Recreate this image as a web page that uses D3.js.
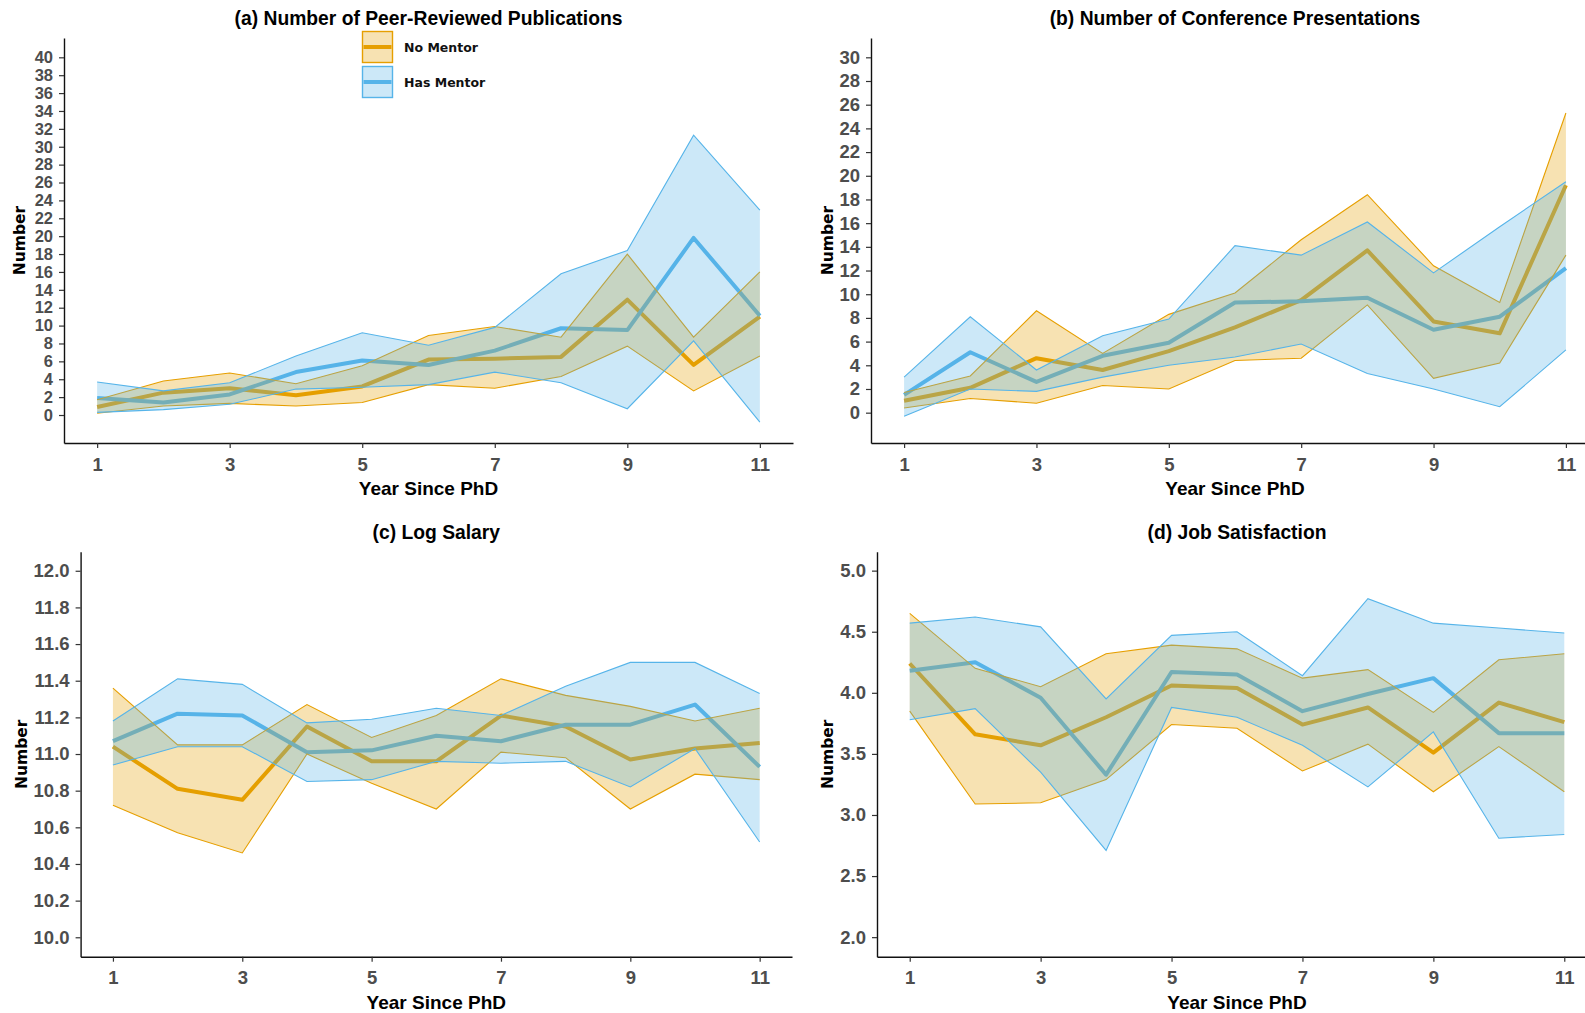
<!DOCTYPE html>
<html>
<head>
<meta charset="utf-8">
<script src="https://cdn.jsdelivr.net/npm/d3@7"></script>
<style>
  body { margin: 0; background: #fff; }
  svg { display: block; }
</style>
</head>
<body>
<svg id="chart" width="1585" height="1013"></svg>
<script>
const years = [1, 2, 3, 4, 5, 6, 7, 8, 9, 10, 11]
const yearTicks = [1, 3, 5, 7, 9, 11]
const groupNames = ["No Mentor", "Has Mentor"]

// (a) peer-reviewed publications
const pubsNoMean = [0.9, 2.5, 3.0, 2.2, 3.2, 6.2, 6.3, 6.5, 12.9, 5.6, 11.0]
const pubsNoLow = [0.2, 1.0, 1.3, 1.0, 1.4, 3.4, 3.0, 4.3, 7.7, 2.7, 6.6]
const pubsNoHigh = [1.7, 3.8, 4.7, 3.5, 5.5, 8.9, 9.9, 8.7, 18.0, 8.7, 16.0]
const pubsHasMean = [1.9, 1.4, 2.3, 4.8, 6.1, 5.6, 7.2, 9.7, 9.5, 19.8, 11.1]
const pubsHasLow = [0.3, 0.6, 1.2, 2.9, 3.1, 3.4, 4.8, 3.6, 0.7, 8.3, -0.8]
const pubsHasHigh = [3.7, 2.7, 3.6, 6.6, 9.2, 7.8, 9.8, 15.8, 18.4, 31.3, 22.9]
const pubsTicks = [0, 2, 4, 6, 8, 10, 12, 14, 16, 18, 20, 22, 24, 26, 28, 30, 32, 34, 36, 38, 40]

// (b) conference presentations
const confNoMean = [1.0, 2.1, 4.6, 3.6, 5.2, 7.2, 9.5, 13.7, 7.7, 6.7, 19.2]
const confNoLow = [0.4, 1.2, 0.8, 2.3, 2.0, 4.4, 4.6, 9.1, 2.9, 4.2, 13.3]
const confNoHigh = [1.7, 3.1, 8.6, 5.0, 8.3, 10.1, 14.6, 18.4, 12.4, 9.3, 25.3]
const confHasMean = [1.5, 5.1, 2.6, 4.8, 5.9, 9.3, 9.4, 9.7, 7.0, 8.1, 12.2]
const confHasLow = [-0.3, 2.0, 1.8, 3.0, 4.0, 4.7, 5.8, 3.3, 2.0, 0.5, 5.3]
const confHasHigh = [3.0, 8.1, 3.6, 6.5, 7.9, 14.1, 13.3, 16.1, 11.8, 15.7, 19.5]
const confTicks = [0, 2, 4, 6, 8, 10, 12, 14, 16, 18, 20, 22, 24, 26, 28, 30]

// (c) log salary
const salaryNoMean = [11.04, 10.81, 10.75, 11.15, 10.96, 10.96, 11.21, 11.15, 10.97, 11.03, 11.06]
const salaryNoLow = [10.72, 10.57, 10.46, 11.00, 10.84, 10.70, 11.01, 10.98, 10.70, 10.89, 10.86]
const salaryNoHigh = [11.36, 11.05, 11.05, 11.27, 11.09, 11.21, 11.41, 11.32, 11.26, 11.18, 11.25]
const salaryHasMean = [11.07, 11.22, 11.21, 11.01, 11.02, 11.10, 11.07, 11.16, 11.16, 11.27, 10.93]
const salaryHasLow = [10.94, 11.04, 11.04, 10.85, 10.86, 10.96, 10.95, 10.96, 10.82, 11.03, 10.52]
const salaryHasHigh = [11.18, 11.41, 11.38, 11.17, 11.19, 11.25, 11.21, 11.37, 11.50, 11.50, 11.33]
const salaryTicks = [10.0, 10.2, 10.4, 10.6, 10.8, 11.0, 11.2, 11.4, 11.6, 11.8, 12.0]

// (d) job satisfaction
const satisNoMean = [4.24, 3.66, 3.57, 3.80, 4.06, 4.04, 3.74, 3.88, 3.51, 3.92, 3.76]
const satisNoLow = [3.85, 3.09, 3.10, 3.29, 3.74, 3.71, 3.36, 3.58, 3.19, 3.56, 3.19]
const satisNoHigh = [4.65, 4.20, 4.05, 4.32, 4.39, 4.36, 4.12, 4.19, 3.84, 4.27, 4.32]
const satisHasMean = [4.18, 4.25, 3.96, 3.33, 4.17, 4.15, 3.85, 3.99, 4.12, 3.67, 3.67]
const satisHasLow = [3.78, 3.87, 3.35, 2.71, 3.88, 3.80, 3.57, 3.23, 3.68, 2.81, 2.84]
const satisHasHigh = [4.57, 4.62, 4.54, 3.95, 4.47, 4.50, 4.14, 4.77, 4.57, 4.53, 4.49]
const satisTicks = [2.0, 2.5, 3.0, 3.5, 4.0, 4.5, 5.0]

const colors = ["#E69F00", "#56B4E9"]
const fontMain = "'Liberation Sans', Arial, sans-serif"
const fontAlt = "'DejaVu Sans', Verdana, sans-serif"

const svg = d3.select("#chart")

const makeSeries = (mean, low, high) => years.map((yr, i) => ({ yr: yr, mean: mean[i], low: low[i], high: high[i] }))

const panels = [
  {
    title: "(a) Number of Peer-Reviewed Publications",
    groups: [makeSeries(pubsNoMean, pubsNoLow, pubsNoHigh), makeSeries(pubsHasMean, pubsHasLow, pubsHasHigh)],
    ticks: pubsTicks, fmt: d3.format("d"), tickFont: "16.5px",
    left: 64, right: 793, top: 38, bottom: 443, yDomain: [-3.13, 42.16], labelX: 25, legend: true
  },
  {
    title: "(b) Number of Conference Presentations",
    groups: [makeSeries(confNoMean, confNoLow, confNoHigh), makeSeries(confHasMean, confHasLow, confHasHigh)],
    ticks: confTicks, fmt: d3.format("d"), tickFont: "18.5px",
    left: 871, right: 1599, top: 38, bottom: 443, yDomain: [-2.56, 31.63], labelX: 833
  },
  {
    title: "(c) Log Salary",
    groups: [makeSeries(salaryNoMean, salaryNoLow, salaryNoHigh), makeSeries(salaryHasMean, salaryHasLow, salaryHasHigh)],
    ticks: salaryTicks, fmt: d3.format(".1f"), tickFont: "18.5px",
    left: 80.6, right: 792, top: 551.7, bottom: 956.7, yDomain: [9.894, 12.104], labelX: 26.5
  },
  {
    title: "(d) Job Satisfaction",
    groups: [makeSeries(satisNoMean, satisNoLow, satisNoHigh), makeSeries(satisHasMean, satisHasLow, satisHasHigh)],
    ticks: satisTicks, fmt: d3.format(".1f"), tickFont: "18.5px",
    left: 877, right: 1597, top: 551.7, bottom: 956.7, yDomain: [1.84, 5.155], labelX: 833
  }
]

const drawPanel = (p) => {
  let g = svg.append("g")
  let x = d3.scaleLinear().domain([0.5, 11.5]).range([p.left, p.right])
  let y = d3.scaleLinear().domain(p.yDomain).range([p.bottom, p.top])

  let meanLine = d3.line().x(d => x(d.yr)).y(d => y(d.mean))
  let lowLine = d3.line().x(d => x(d.yr)).y(d => y(d.low))
  let highLine = d3.line().x(d => x(d.yr)).y(d => y(d.high))
  let band = d3.area().x(d => x(d.yr)).y0(d => y(d.low)).y1(d => y(d.high))

  // mean lines sit under the ribbons, like in the original plot
  p.groups.forEach((s, i) => {
    g.append("path").datum(s)
      .attr("d", meanLine)
      .attr("fill", "none")
      .attr("stroke", colors[i])
      .attr("stroke-width", 4)
      .attr("stroke-linejoin", "round")
  })
  p.groups.forEach((s, i) => {
    g.append("path").datum(s)
      .attr("d", band)
      .attr("fill", colors[i])
      .attr("fill-opacity", 0.3)
    g.append("path").datum(s)
      .attr("d", lowLine)
      .attr("fill", "none")
      .attr("stroke", colors[i])
      .attr("stroke-width", 1.1)
    g.append("path").datum(s)
      .attr("d", highLine)
      .attr("fill", "none")
      .attr("stroke", colors[i])
      .attr("stroke-width", 1.1)
  })

  let xAxis = g.append("g")
    .attr("transform", `translate(0,${p.bottom})`)
    .call(d3.axisBottom(x).tickValues(yearTicks).tickSize(5).tickSizeOuter(0).tickPadding(9.5))
  let yAxis = g.append("g")
    .attr("transform", `translate(${p.left},0)`)
    .call(d3.axisLeft(y).tickValues(p.ticks).tickFormat(p.fmt).tickSize(5).tickSizeOuter(0).tickPadding(6))

  ;[xAxis, yAxis].forEach(ax => {
    ax.select(".domain").attr("stroke", "#111").attr("stroke-width", 1.4)
    ax.selectAll(".tick line").attr("stroke", "#333").attr("stroke-width", 1.2)
    ax.selectAll(".tick text")
      .attr("fill", "#4D4D4D")
      .attr("font-family", fontMain)
      .attr("font-weight", "bold")
      .attr("font-size", "18.5px")
  })
  yAxis.selectAll(".tick text").attr("font-size", p.tickFont)

  let cx = (p.left + p.right) / 2
  g.append("text")
    .attr("x", cx).attr("y", p.top - 13)
    .attr("text-anchor", "middle")
    .attr("font-family", fontMain).attr("font-weight", "bold").attr("font-size", "19.3px")
    .attr("fill", "#000")
    .text(p.title)

  g.append("text")
    .attr("x", cx).attr("y", p.bottom + 52)
    .attr("text-anchor", "middle")
    .attr("font-family", fontMain).attr("font-weight", "bold").attr("font-size", "19px")
    .attr("fill", "#000")
    .text("Year Since PhD")

  g.append("text")
    .attr("transform", `translate(${p.labelX},${(p.top + p.bottom) / 2}) rotate(-90)`)
    .attr("text-anchor", "middle")
    .attr("font-family", fontAlt).attr("font-weight", "bold").attr("font-size", "15.5px")
    .attr("fill", "#000")
    .text("Number")

  if (p.legend) drawLegend(g)
}

const drawLegend = (g) => {
  let keyX = 362, keyW = 31, keyH = 32
  let keyTops = [31, 66]
  groupNames.forEach((name, i) => {
    let k = g.append("g").attr("transform", `translate(${keyX},${keyTops[i]})`)
    k.append("rect")
      .attr("x", 0.5).attr("y", 0.5)
      .attr("width", keyW - 1).attr("height", keyH - 1)
      .attr("fill", colors[i]).attr("fill-opacity", 0.3)
      .attr("stroke", colors[i]).attr("stroke-width", 1.4)
    k.append("line")
      .attr("x1", 1.5).attr("x2", keyW - 1.5)
      .attr("y1", keyH / 2).attr("y2", keyH / 2)
      .attr("stroke", colors[i]).attr("stroke-width", 4)
    k.append("text")
      .attr("x", 42).attr("y", keyH / 2 + 5)
      .attr("font-family", fontAlt).attr("font-weight", "bold").attr("font-size", "12.5px")
      .attr("fill", "#111")
      .text(name)
  })
}

panels.forEach(drawPanel)
</script>
</body>
</html>
